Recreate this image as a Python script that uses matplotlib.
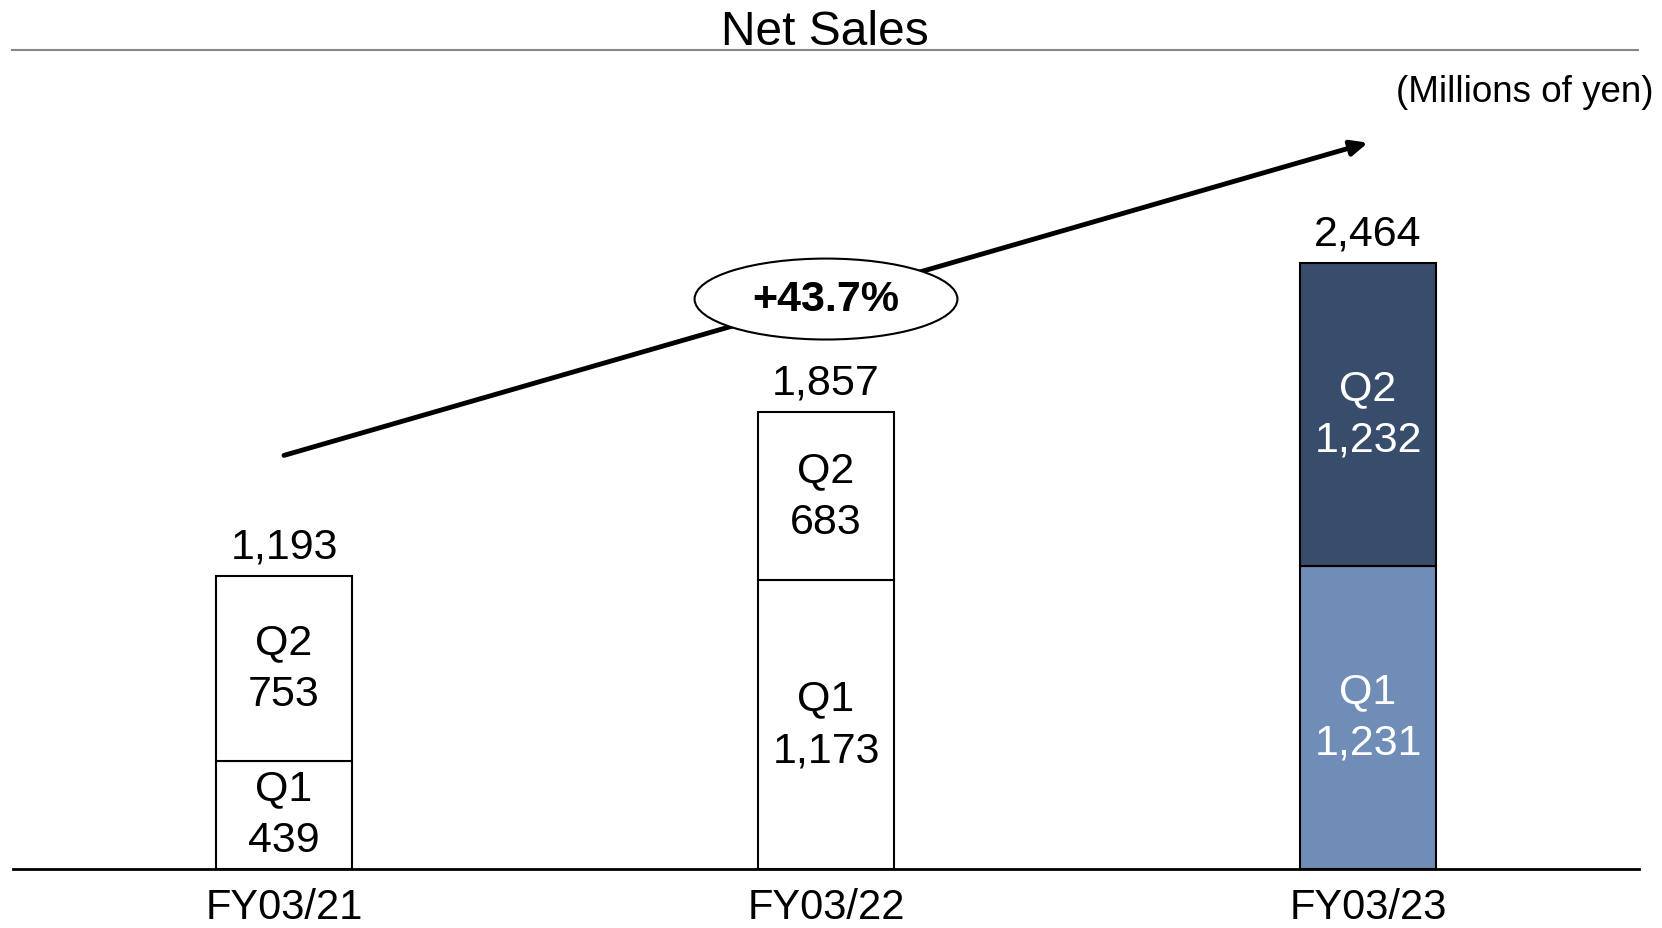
import matplotlib.pyplot as plt
from matplotlib.patches import Ellipse

plt.rcParams['font.family'] = ['Liberation Sans', 'DejaVu Sans']

years = ['FY03/21', 'FY03/22', 'FY03/23']
q1 = [439, 1173, 1231]
q2 = [753, 683, 1232]
totals = [1193, 1857, 2464]
growth = '+43.7%'

q1_colors = ['white', 'white', '#6F8DB7']
q2_colors = ['white', 'white', '#384D6C']
text_colors = ['black', 'black', 'white']

fig = plt.figure(figsize=(16.62, 9.285), dpi=100)
ax = fig.add_axes([13 / 1662, 59 / 928, 1626 / 1662, 869 / 928])
ax.set_xlim(-0.5, 2.5)
ax.set_ylim(0, 3534)

x = range(len(years))
w = 0.25
ax.bar(x, q1, width=w, color=q1_colors, edgecolor='black', linewidth=1.5, zorder=2)
ax.bar(x, q2, width=w, bottom=q1, color=q2_colors, edgecolor='black', linewidth=1.5, zorder=2)

for i in x:
    ax.text(i, q1[i] / 2, 'Q1\n' + format(q1[i], ','), ha='center', va='center',
            fontsize=31, color=text_colors[i], linespacing=1.38, zorder=3)
    ax.text(i, q1[i] + q2[i] / 2, 'Q2\n' + format(q2[i], ','), ha='center', va='center',
            fontsize=31, color=text_colors[i], linespacing=1.38, zorder=3)
    ax.text(i, totals[i] + 35, format(totals[i], ','), ha='center', va='bottom',
            fontsize=31, zorder=3)
    # category label under the baseline
    ax.annotate(years[i], xy=(i, 0), xycoords=('data', 'axes fraction'),
                xytext=(0, -36), textcoords='offset points',
                ha='center', va='baseline', fontsize=30, annotation_clip=False)

# growth arrow
off = 488
ax.annotate('', xy=(2, totals[2] + off), xytext=(0, totals[0] + off),
            arrowprops=dict(arrowstyle='-|>,head_length=1.0,head_width=0.45',
                            color='black', lw=3.5, shrinkA=0, shrinkB=0), zorder=4)
mid_y = (totals[0] + totals[2]) / 2 + off
ax.add_patch(Ellipse((1, mid_y), 0.485, 329, facecolor='white', edgecolor='black',
                     linewidth=1.5, zorder=5))
ax.text(1, mid_y, growth, ha='center', va='center', fontsize=31, fontweight='bold', zorder=6)

for s in ['top', 'left', 'right']:
    ax.spines[s].set_visible(False)
ax.spines['bottom'].set_linewidth(2)
ax.set_yticks([])
ax.set_xticks([])
ax.patch.set_alpha(0)

fig.text(825 / 1662, 1 - 32 / 928, 'Net Sales', ha='center', va='center', fontsize=34.5)
fig.add_artist(plt.Line2D([12 / 1662, 1638 / 1662], [1 - 50.5 / 928, 1 - 50.5 / 928],
                          color='#888888', linewidth=1.5))
fig.text(1654 / 1662, 1 - 92 / 928, '(Millions of yen)', ha='right', va='center', fontsize=26.5)

fig.savefig('out.png', dpi=100)
